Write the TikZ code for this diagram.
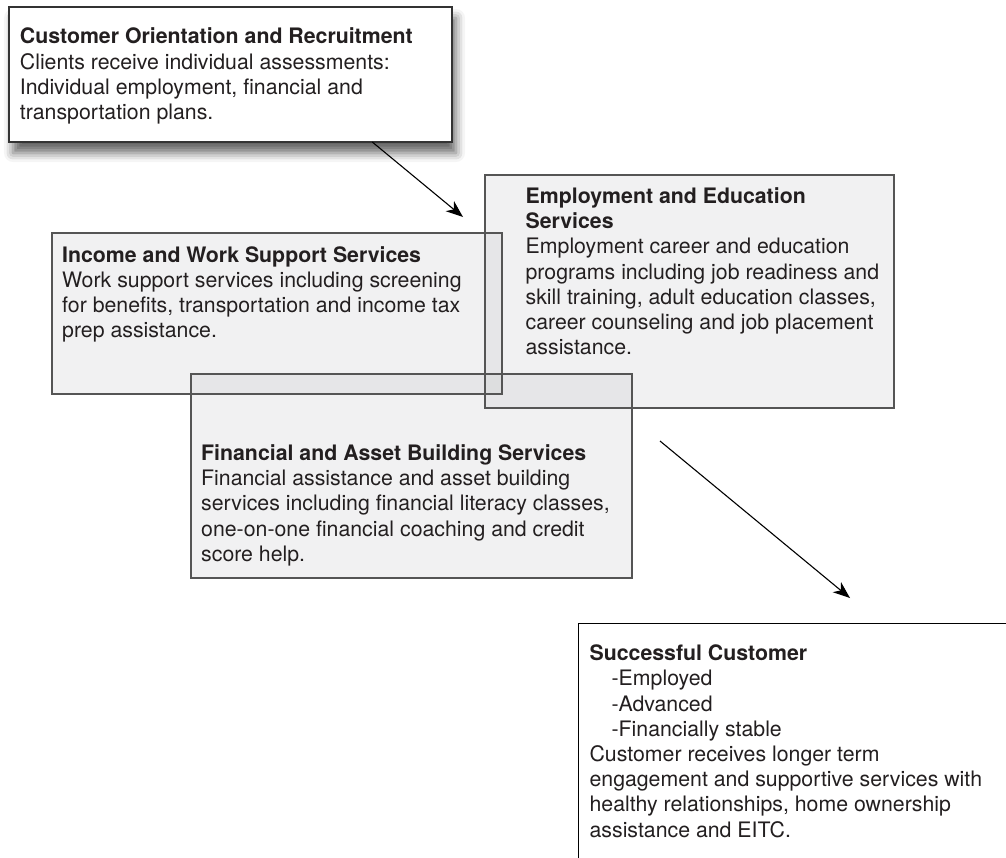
\documentclass[tikz,border=0pt]{standalone}
\usepackage{fontspec}
\setmainfont{TeX Gyre Heros}
\usepackage{xcolor}
\usetikzlibrary{positioning,calc,arrows.meta,shadows.blur}

\definecolor{panelgray}{RGB}{190,191,194}
\definecolor{edgegray}{RGB}{85,85,85}
\definecolor{inkgray}{RGB}{35,31,32}

\newcommand{\panelfont}{\fontsize{21.3}{25.2}\selectfont}

\begin{document}
\begin{tikzpicture}[x=1pt, y=-1pt,
  box/.style={rectangle, inner sep=0pt, outer sep=0pt, anchor=north west},
  panel/.style={box, fill=panelgray, fill opacity=0.215},
  panelline/.style={draw=edgegray, line width=1.6pt},
  txt/.style={inner sep=0pt, align=left, font=\panelfont, text=inkgray},
  flow/.style={draw=black, line width=1.1pt, -{Stealth[length=17pt, width=13pt, inset=5pt]}}]
  % Page frame
  \clip (0,0) rectangle (1006,857);

  % Start box with its shadow
  \node[box, minimum width=443pt, minimum height=135pt, fill=white, draw=black!80, line width=1.4pt,
        blur shadow={shadow xshift=4pt, shadow yshift=-11pt, shadow blur radius=9pt, shadow opacity=60}] (orient) at (9,7) {};

  % The three services, see-through
  \node[panel, minimum width=450pt, minimum height=161pt] (income) at (52,233) {};
  \node[panel, minimum width=409pt, minimum height=233pt] (employ) at (485,175) {};
  \node[panel, minimum width=441pt, minimum height=204pt] (finance) at (191,374) {};
  \foreach \b in {income,employ,finance}
    \draw[panelline] (\b.south west) rectangle (\b.north east);

  % End box, runs off the page
  \node[box, minimum width=450pt, minimum height=260pt, fill=white, draw=black, line width=1pt] (success) at (578,623) {};

  % Texts
  \node[txt, below right=20.8pt and 10.7pt of orient.north west] (orienttxt)
    {\textbf{Customer Orientation and Recruitment}\\Clients receive individual assessments:\\Individual employment, financial and\\transportation plans.};
  \node[txt, below right=13.2pt and 10pt of income.north west] (incometxt)
    {\textbf{Income and Work Support Services}\\Work support services including screening\\for benefits, transportation and income tax\\prep assistance.};
  \node[txt, below right=12.5pt and 40.4pt of employ.north west] (employtxt)
    {\textbf{Employment and Education}\\\textbf{Services}\\Employment career and education\\programs including job readiness and\\skill training, adult education classes,\\career counseling and job placement\\assistance.};
  \node[txt, below right=70.5pt and 10pt of finance.north west] (financetxt)
    {\textbf{Financial and Asset Building Services}\\Financial assistance and asset building\\services including financial literacy classes,\\one-on-one financial coaching and credit\\score help.};
  \node[txt, below right=21.8pt and 11.4pt of success.north west] (successtxt)
    {\textbf{Successful Customer}\\\hspace*{22pt}-Employed\\\hspace*{22pt}-Advanced\\\hspace*{22pt}-Financially stable\\Customer receives longer term\\engagement and supportive services with\\healthy relationships, home ownership\\assistance and EITC.};

  % Arrows
  \coordinate (orientout) at ($(orient.south west)!0.82!(orient.south east)$);
  \coordinate (servicesin) at (463,217);
  \coordinate (servicesout) at (660,441);
  \coordinate (successin) at (850,598);
  \draw[flow] (orientout) -- (servicesin);
  \draw[flow] (servicesout) -- (successin);
\end{tikzpicture}
\end{document}
